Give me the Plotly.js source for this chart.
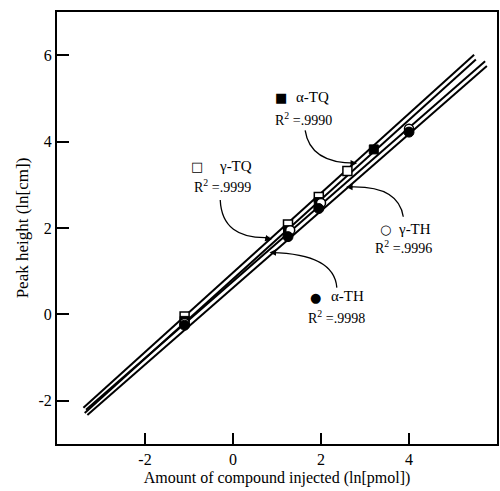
<!DOCTYPE html>
<html>
<head>
<meta charset="utf-8">
<script src="https://cdn.plot.ly/plotly-3.0.1.min.js"></script>
<style>html,body{margin:0;padding:0;background:#fff;}</style>
</head>
<body>
<div id="chart" style="width:500px;height:491px;"></div>
<script>
// Series names and R^2 values
const seriesNames = ['γ-TQ', 'α-TQ', 'γ-TH', 'α-TH'];
const rSquared = ['.9999', '.9990', '.9996', '.9998'];

// Data points (ln pmol, ln cm)
const gTQ_x = [-1.1, 1.25, 1.95, 2.6];
const gTQ_y = [-0.05, 2.08, 2.72, 3.32];
const aTQ_x = [-1.1, 1.25, 1.95, 3.2];
const aTQ_y = [-0.15, 1.95, 2.6, 3.82];
const gTH_x = [-1.1, 1.3, 2.0, 4.0];
const gTH_y = [-0.2, 1.95, 2.58, 4.3];
const aTH_x = [-1.1, 1.25, 1.95, 4.0];
const aTH_y = [-0.25, 1.8, 2.45, 4.22];

// Regression line endpoints (order: γ-TQ, α-TQ, γ-TH, α-TH)
const lineX0 = [-3.40, -3.37, -3.34, -3.31];
const lineY0 = [-2.16, -2.28, -2.21, -2.33];
const lineX1 = [5.48, 5.52, 5.73, 5.77];
const lineY1 = [6.01, 5.90, 5.86, 5.75];

// Axis ticks
const xTicks = [-2, 0, 2, 4];
const yTicks = [-2, 0, 2, 4, 6];

const FONT = 'Liberation Serif, Times New Roman, serif';

const traces = [];
for (let i = 0; i < 4; i++) {
  traces.push({
    x: [lineX0[i], lineX1[i]], y: [lineY0[i], lineY1[i]],
    mode: 'lines', line: {color: '#000', width: 2},
    hoverinfo: 'skip', showlegend: false
  });
}
traces.push({x: gTQ_x, y: gTQ_y, mode: 'markers', showlegend: false,
  marker: {symbol: 'square', size: 9, color: '#fff', line: {color: '#000', width: 1.5}}});
traces.push({x: aTQ_x, y: aTQ_y, mode: 'markers', showlegend: false,
  marker: {symbol: 'square', size: 9, color: '#000', line: {color: '#000', width: 1}}});
traces.push({x: gTH_x, y: gTH_y, mode: 'markers', showlegend: false,
  marker: {symbol: 'circle', size: 9, color: '#fff', line: {color: '#000', width: 1.5}}});
traces.push({x: aTH_x, y: aTH_y, mode: 'markers', showlegend: false,
  marker: {symbol: 'circle', size: 10, color: '#000', line: {color: '#000', width: 1}}});

const glyphs = ['□', '■', '○', '●'];
// label anchor positions (data coords)
const labelPos = [
  {gx: -0.82, gy: 3.43, lx: 0.05, ly: 3.43, rx: -0.25, ry: 2.97},   // γ-TQ
  {gx: 1.09, gy: 5.03, lx: 1.8, ly: 5.03, rx: 1.6, ry: 4.53},       // α-TQ
  {gx: 3.47, gy: 1.97, lx: 4.12, ly: 1.97, rx: 3.88, ry: 1.57},     // γ-TH
  {gx: 1.88, gy: 0.40, lx: 2.6, ly: 0.42, rx: 2.35, ry: -0.06}      // α-TH
];
const annotations = [];
for (let i = 0; i < 4; i++) {
  const p = labelPos[i];
  annotations.push({x: p.gx, y: p.gy, xref: 'x', yref: 'y', text: glyphs[i], showarrow: false,
    font: {family: 'DejaVu Sans', size: 13, color: '#000'}});
  annotations.push({x: p.lx, y: p.ly, xref: 'x', yref: 'y', text: seriesNames[i], showarrow: false,
    font: {family: FONT, size: 15, color: '#000'}});
  annotations.push({x: p.rx, y: p.ry, xref: 'x', yref: 'y', text: 'R<sup>2</sup> =' + rSquared[i], showarrow: false,
    font: {family: FONT, size: 14, color: '#000'}});
}
// arrowheads at line ends of leader curves
const heads = [
  {x: 0.88, y: 1.73, ax: -8, ay: -2},
  {x: 2.82, y: 3.50, ax: -8, ay: 0},
  {x: 2.57, y: 2.95, ax: 8, ay: 0},
  {x: 0.83, y: 1.43, ax: 8, ay: 0}
];
heads.forEach(h => annotations.push({x: h.x, y: h.y, xref: 'x', yref: 'y', text: '', showarrow: true,
  ax: h.ax, ay: h.ay, arrowhead: 2, arrowsize: 1, arrowwidth: 1.3, arrowcolor: '#000'}));

const shapes = [
  {type: 'path', path: 'M -0.29,2.65 Q -0.25,1.73 0.83,1.78', line: {color: '#000', width: 1.3}},
  {type: 'path', path: 'M 1.64,4.26 Q 1.75,3.5 2.78,3.50', line: {color: '#000', width: 1.3}},
  {type: 'path', path: 'M 3.87,2.26 Q 3.76,3.0 2.62,2.95', line: {color: '#000', width: 1.3}},
  {type: 'path', path: 'M 2.36,0.62 Q 2.30,1.40 0.88,1.43', line: {color: '#000', width: 1.3}}
];
shapes.forEach(s => { s.xref = 'x'; s.yref = 'y'; });

const layout = {
  width: 500, height: 491,
  margin: {l: 57, r: 3, t: 12, b: 47},
  paper_bgcolor: '#fff', plot_bgcolor: '#fff',
  font: {family: FONT, size: 16, color: '#000'},
  xaxis: {
    range: [-4, 6], tickvals: xTicks, ticktext: xTicks.map(String),
    ticks: 'inside', ticklen: 11, tickwidth: 2, tickcolor: '#000',
    showline: true, linewidth: 2, linecolor: '#000', mirror: true,
    showgrid: false, zeroline: false,
    tickfont: {family: FONT, size: 16},
    title: {text: 'Amount of compound injected (ln[pmol])', font: {family: FONT, size: 16}, standoff: 5}
  },
  yaxis: {
    range: [-3, 7], tickvals: yTicks, ticktext: yTicks.map(String),
    ticks: 'inside', ticklen: 12, tickwidth: 2, tickcolor: '#000',
    showline: true, linewidth: 2, linecolor: '#000', mirror: true,
    showgrid: false, zeroline: false,
    tickfont: {family: FONT, size: 16},
    title: {text: 'Peak height (ln[cm])', font: {family: FONT, size: 17}, standoff: 6}
  },
  annotations: annotations,
  shapes: shapes
};

Plotly.newPlot('chart', traces, layout, {displayModeBar: false, staticPlot: true});
</script>
</body>
</html>
